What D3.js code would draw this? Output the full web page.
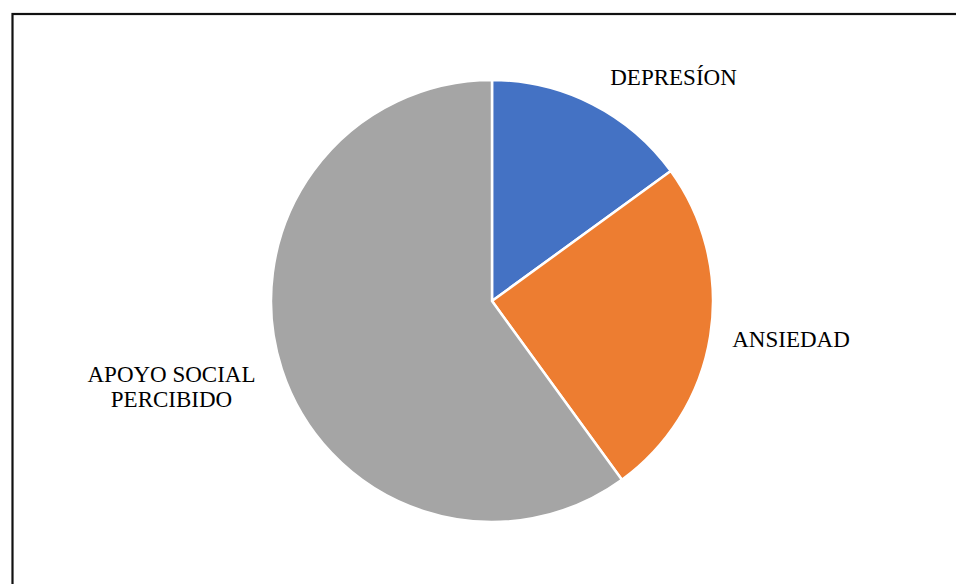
<!DOCTYPE html>
<html>
<head>
<meta charset="utf-8">
<script src="https://cdn.jsdelivr.net/npm/d3@7"></script>
<style>
  html, body { margin: 0; padding: 0; background: #fff; overflow: hidden; }
  svg { display: block; }
</style>
</head>
<body>
<svg id="chart" width="956" height="584"></svg>
<script>
// Share of each construct
const categories = ["DEPRESÍON", "ANSIEDAD", "APOYO SOCIAL PERCIBIDO"];
const values = [15, 25, 60];
const colors = ["#4472C4", "#ED7D31", "#A5A5A5"];
// Label lines for each slice
const labelLines = [["DEPRESÍON"], ["ANSIEDAD"], ["APOYO SOCIAL", "PERCIBIDO"]];

const svg = d3.select("#chart");
const cx = 492, cy = 301, r = 221;

// Label anchor points (centre of first baseline), relative to the pie centre
const labelPos = {
  "DEPRESÍON": [181.5, -216.5],
  "ANSIEDAD": [299, 46],
  "APOYO SOCIAL PERCIBIDO": [-320.5, 80.5]
};

// Frame around the chart area
svg.append("rect")
  .attr("x", 12.5).attr("y", 14)
  .attr("width", 1000).attr("height", 1000)
  .attr("fill", "none").attr("stroke", "#111").attr("stroke-width", 2.2);

const data = categories.map((c, i) => ({ name: c, value: values[i], color: colors[i], lines: labelLines[i] }));

const pie = d3.pie().value(d => d.value).sort(null);
const arc = d3.arc().innerRadius(0).outerRadius(r);
const arcs = pie(data);

const g = svg.append("g").attr("transform", `translate(${cx},${cy})`);

g.selectAll("path.slice")
  .data(arcs)
  .join("path")
  .attr("class", "slice")
  .attr("d", arc)
  .attr("fill", d => d.data.color)
  .attr("stroke", "#fff")
  .attr("stroke-width", 2.5)
  .attr("stroke-linejoin", "round");

const lineH = 25;

const labels = g.selectAll("text.lbl")
  .data(arcs)
  .join("text")
  .attr("class", "lbl")
  .attr("text-anchor", "middle")
  .attr("font-family", "'Liberation Serif', 'Times New Roman', serif")
  .attr("font-size", 23)
  .attr("fill", "#000")
  .attr("transform", d => {
    const [x, y] = labelPos[d.data.name];
    return `translate(${x},${y})`;
  });

labels.each(function(d) {
  const t = d3.select(this);
  d.data.lines.forEach((line, i) => {
    t.append("tspan")
      .attr("x", 0)
      .attr("dy", i === 0 ? 0 : lineH)
      .text(line);
  });
});
</script>
</body>
</html>
